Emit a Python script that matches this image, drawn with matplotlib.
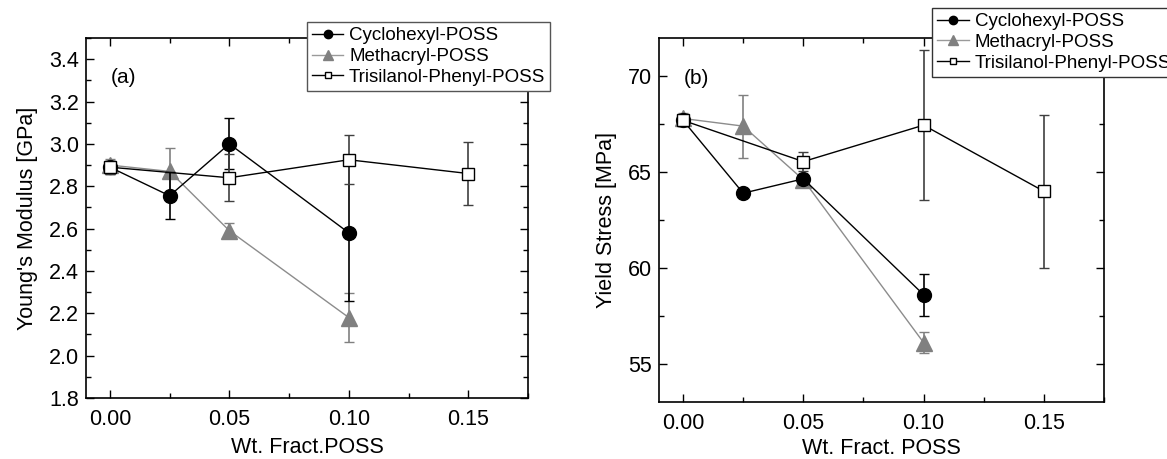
import numpy as np
import matplotlib
matplotlib.use('Agg')
import matplotlib.pyplot as plt
from matplotlib.lines import Line2D
from matplotlib.ticker import MultipleLocator

plt.rcParams['font.family'] = ['Liberation Sans', 'DejaVu Sans']

# data
x_cyc = [0.0, 0.025, 0.05, 0.10]
x_met = [0.0, 0.025, 0.05, 0.10]
x_tri = [0.0, 0.05, 0.10, 0.15]

# (a) Young's modulus [GPa]
E_cyc = [2.89, 2.755, 3.00, 2.58]
E_cyc_err = [0.03, 0.11, 0.12, 0.32]
E_met = [2.90, 2.87, 2.59, 2.18]
E_met_err = [0.03, 0.11, 0.035, 0.115]
E_tri = [2.89, 2.84, 2.925, 2.86]
E_tri_err = [0.03, 0.11, 0.115, 0.15]

# (b) yield stress [MPa]
S_cyc = [67.7, 63.9, 64.65, 58.6]
S_cyc_err = [0.3, 0.2, 0.25, 1.1]
S_met = [67.8, 67.4, 64.6, 56.1]
S_met_err = [0.3, 1.65, 0.25, 0.55]
S_tri = [67.7, 65.55, 67.45, 64.0]
S_tri_err = [0.3, 0.5, 3.9, 4.0]

labels = ['Cyclohexyl-POSS', 'Methacryl-POSS', 'Trisilanol-Phenyl-POSS']

fig = plt.figure(figsize=(11.67, 4.59), dpi=100)
ax1 = fig.add_axes([0.0737, 0.1329, 0.3787, 0.7843])
ax2 = fig.add_axes([0.5647, 0.1242, 0.3813, 0.7930])

# legend handles: line with marker, no error bars
handles = [
    Line2D([], [], color='black', lw=1.0, marker='o', ms=6, mfc='black', mec='black'),
    Line2D([], [], color='#9a9a9a', lw=1.0, marker='^', ms=6.5, mfc='#808080', mec='#808080'),
    Line2D([], [], color='black', lw=1.0, marker='s', ms=5, mfc='white', mec='black'),
]


def draw(ax, yc, ec, ym, em, yt, et):
    ax.errorbar(x_cyc, yc, yerr=ec, color='black', lw=1.0, marker='o', ms=10,
                mfc='black', mec='black', ecolor='black', elinewidth=1.2,
                capsize=3.5, capthick=1.0, zorder=4)
    ax.errorbar(x_met, ym, yerr=em, color='#8c8c8c', lw=1.0, marker='^', ms=11,
                mfc='#808080', mec='#808080', ecolor='#808080', elinewidth=1.2,
                capsize=3.5, capthick=1.0, zorder=3)
    ax.errorbar(x_tri, yt, yerr=et, color='black', lw=1.0, marker='s', ms=9,
                mfc='white', mec='black', mew=1.0, ecolor='#404040', elinewidth=1.2,
                capsize=3.5, capthick=1.0, zorder=5)


def style(ax):
    ax.set_xlim(-0.01, 0.175)
    ax.xaxis.set_major_locator(MultipleLocator(0.05))
    ax.xaxis.set_minor_locator(MultipleLocator(0.025))
    ax.xaxis.set_major_formatter(plt.FormatStrFormatter('%.2f'))
    ax.tick_params(which='both', direction='in', top=True, right=True, labelsize=15.5)
    ax.tick_params(axis='x', pad=8)
    ax.tick_params(axis='y', pad=5)
    ax.tick_params(which='major', length=6, width=1.0)
    ax.tick_params(which='minor', length=3.5, width=1.0)
    for s in ax.spines.values():
        s.set_linewidth(1.2)


def legend(ax, anchor, edge):
    leg = ax.legend(handles, labels, loc='upper left', bbox_to_anchor=anchor,
                    bbox_transform=fig.transFigure, borderaxespad=0, fontsize=13.5,
                    handlelength=1.7, handletextpad=0.3, labelspacing=0.2,
                    borderpad=0.25, fancybox=False, framealpha=1)
    leg.get_frame().set_edgecolor(edge)
    leg.get_frame().set_linewidth(1.0)
    leg.set_zorder(10)


draw(ax1, E_cyc, E_cyc_err, E_met, E_met_err, E_tri, E_tri_err)
style(ax1)
ax1.set_ylim(1.8, 3.5)
ax1.yaxis.set_major_locator(MultipleLocator(0.2))
ax1.yaxis.set_minor_locator(MultipleLocator(0.1))
ax1.yaxis.set_major_formatter(plt.FormatStrFormatter('%.1f'))
ax1.set_xlabel('Wt. Fract.POSS', fontsize=15.5, labelpad=5)
ax1.set_ylabel("Young's Modulus [GPa]", fontsize=15.5, labelpad=8)
ax1.text(0.055, 0.875, '(a)', transform=ax1.transAxes, fontsize=15)
legend(ax1, (0.263, 0.951), '#555555')

draw(ax2, S_cyc, S_cyc_err, S_met, S_met_err, S_tri, S_tri_err)
style(ax2)
ax2.set_ylim(53, 72)
ax2.yaxis.set_major_locator(MultipleLocator(5))
ax2.yaxis.set_minor_locator(MultipleLocator(2.5))
ax2.set_xlabel('Wt. Fract. POSS', fontsize=15.5, labelpad=3)
ax2.set_ylabel('Yield Stress [MPa]', fontsize=15.5, labelpad=8)
ax2.text(0.055, 0.875, '(b)', transform=ax2.transAxes, fontsize=15)
legend(ax2, (0.799, 0.982), '#333333')

fig.savefig('out.png', dpi=100)
